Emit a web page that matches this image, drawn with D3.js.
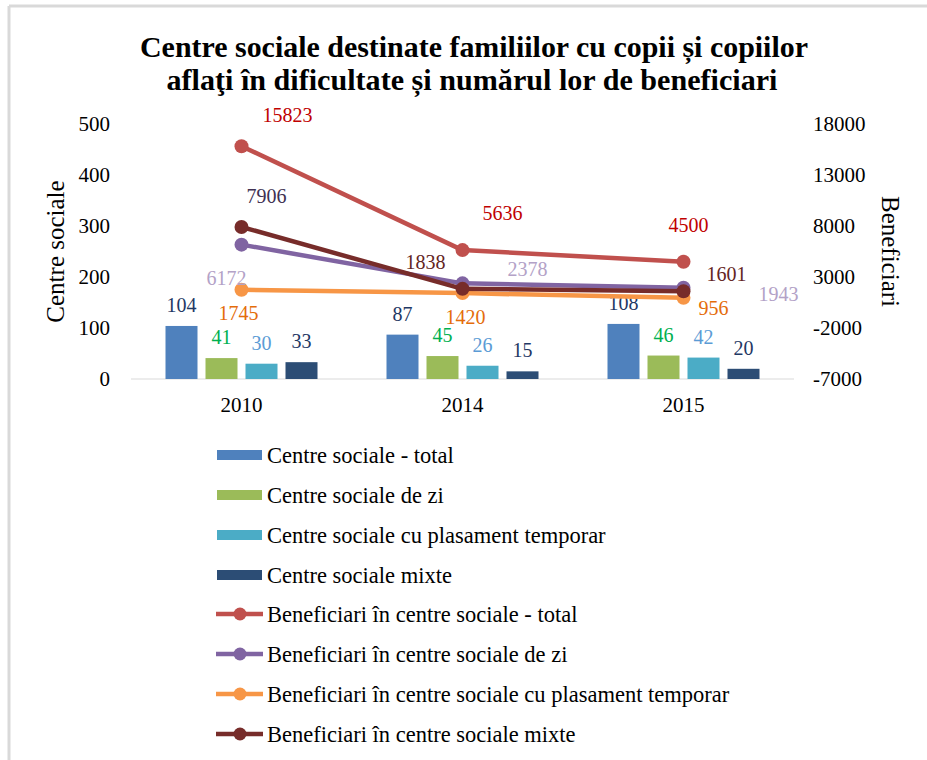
<!DOCTYPE html>
<html>
<head>
<meta charset="utf-8">
<script src="https://cdn.jsdelivr.net/npm/d3@7"></script>
<style>
  body { margin: 0; background: #fff; }
  text { font-family: "Liberation Serif", "Times New Roman", serif; }
</style>
</head>
<body>
<div id="chart"></div>
<script>
// data
var years = ["2010", "2014", "2015"];

var barNames = ["Centre sociale - total", "Centre sociale de zi",
  "Centre sociale cu plasament temporar", "Centre sociale mixte"];
var centreTotal = [104, 87, 108];
var centreZi = [41, 45, 46];
var centreTemporar = [30, 26, 42];
var centreMixte = [33, 15, 20];

var lineNames = ["Beneficiari în centre sociale - total", "Beneficiari în centre sociale de zi",
  "Beneficiari în centre sociale cu plasament temporar", "Beneficiari în centre sociale mixte"];
var benefTotal = [15823, 5636, 4500];
var benefZi = [6172, 2378, 1943];
var benefTemporar = [1745, 1420, 956];
var benefMixte = [7906, 1838, 1601];

var leftTicks = [0, 100, 200, 300, 400, 500];
var rightTicks = [-7000, -2000, 3000, 8000, 13000, 18000];

// styles
var barColors = ["#4f81bd", "#9bbb59", "#4bacc6", "#2c4d75"];
var barLabelColors = ["#1f3864", "#00b050", "#5b9bd5", "#1f3864"];
var lineColors = ["#c0504d", "#8064a2", "#f79646", "#772c2a"];
var lineLabelColors = [["#c00000", "#c00000", "#c00000"],
  ["#b3a2c7", "#b3a2c7", "#b3a2c7"],
  ["#e46c0a", "#e46c0a", "#e46c0a"],
  ["#403152", "#632523", "#632523"]];
// label nudges (dx, dy) per series/year, as placed in the original
var lineLabelNudge = [
  [[46, -31], [40, -37], [5, -37]],
  [[-15, 33], [65, -14], [95, 6]],
  [[-3, 23], [3, 24], [30, 10]],
  [[25, -31], [-37, -27], [43, -17]]
];

var svgWidth = 927;
var svgHeight = 760;
var margin = { top: 124, right: 133, bottom: 381, left: 131 };
var width = svgWidth - margin.left - margin.right;
var height = svgHeight - margin.top - margin.bottom;

var svg = d3.select("#chart")
  .append("svg")
  .attr("width", svgWidth)
  .attr("height", svgHeight);

// frame edge
svg.append("line").attr("x1", 9).attr("x2", svgWidth).attr("y1", 6).attr("y2", 6)
  .attr("stroke", "#d9d9d9").attr("stroke-width", 3);
svg.append("line").attr("x1", 9).attr("x2", 9).attr("y1", 6).attr("y2", svgHeight)
  .attr("stroke", "#d9d9d9").attr("stroke-width", 3);

// title
var title = svg.append("text")
  .attr("text-anchor", "middle")
  .attr("font-weight", "bold")
  .attr("font-size", 29);
title.append("tspan").attr("x", 474).attr("y", 57)
  .attr("textLength", 668).attr("lengthAdjust", "spacingAndGlyphs")
  .text("Centre sociale destinate familiilor cu copii și copiilor");
title.append("tspan").attr("x", 472).attr("y", 90)
  .attr("textLength", 611).attr("lengthAdjust", "spacingAndGlyphs")
  .text("aflaţi în dificultate și numărul lor de beneficiari");

var chartGroup = svg.append("g")
  .attr("transform", `translate(${margin.left}, ${margin.top})`);

var xScale = d3.scaleBand().domain(years).range([0, width]);
var yLeft = d3.scaleLinear().domain([0, 500]).range([height, 0]);
var yRight = d3.scaleLinear().domain([-7000, 18000]).range([height, 0]);
var xSub = d3.scaleBand().domain(d3.range(4)).range([-76, 76]).paddingInner(0.2).paddingOuter(0);

// axes
var leftAxis = chartGroup.append("g")
  .call(d3.axisLeft(yLeft).tickValues(leftTicks).tickFormat(d => String(d)).tickSize(0).tickPadding(21));
var rightAxis = chartGroup.append("g")
  .attr("transform", `translate(${width}, 0)`)
  .call(d3.axisRight(yRight).tickValues(rightTicks).tickFormat(d => String(d)).tickSize(0).tickPadding(19));
var bottomAxis = chartGroup.append("g")
  .attr("transform", `translate(0, ${height})`)
  .call(d3.axisBottom(xScale).tickSize(0).tickPadding(18));

[leftAxis, rightAxis, bottomAxis].forEach(function(a) {
  a.select(".domain").remove();
  a.selectAll("text")
    .attr("font-family", "Liberation Serif")
    .attr("font-size", 21)
    .attr("fill", "#000");
});
bottomAxis.append("line")
  .attr("x1", 0).attr("x2", width)
  .attr("stroke", "#d9d9d9").attr("stroke-width", 1);

// axis titles
svg.append("text")
  .attr("transform", `translate(55, ${margin.top + height / 2}) rotate(-90)`)
  .attr("text-anchor", "middle")
  .attr("dominant-baseline", "central")
  .attr("font-size", 25)
  .text("Centre sociale");
svg.append("text")
  .attr("transform", `translate(890, ${margin.top + height / 2}) rotate(90)`)
  .attr("text-anchor", "middle")
  .attr("dominant-baseline", "central")
  .attr("font-size", 25)
  .text("Beneficiari");

// bars
var barSeries = [centreTotal, centreZi, centreTemporar, centreMixte];
barSeries.forEach(function(vals, i) {
  var g = chartGroup.append("g");
  g.selectAll("rect")
    .data(vals)
    .enter()
    .append("rect")
    .attr("x", (d, j) => xScale(years[j]) + xScale.bandwidth() / 2 + xSub(i))
    .attr("y", d => yLeft(d))
    .attr("width", xSub.bandwidth())
    .attr("height", d => height - yLeft(d))
    .attr("fill", barColors[i]);
  g.selectAll("text")
    .data(vals)
    .enter()
    .append("text")
    .attr("x", (d, j) => xScale(years[j]) + xScale.bandwidth() / 2 + xSub(i) + xSub.bandwidth() / 2)
    .attr("y", d => yLeft(d) - 21)
    .attr("text-anchor", "middle")
    .attr("dominant-baseline", "central")
    .attr("font-size", 20)
    .attr("fill", barLabelColors[i])
    .text(d => d);
});

// lines
var lineSeries = [benefTotal, benefZi, benefTemporar, benefMixte];
var line = d3.line()
  .x((d, j) => xScale(years[j]) + xScale.bandwidth() / 2)
  .y(d => yRight(d));

var drawOrder = [2, 1, 3, 0];
drawOrder.forEach(function(i) {
  var vals = lineSeries[i];
  var g = chartGroup.append("g");
  g.append("path")
    .datum(vals)
    .attr("d", line)
    .attr("fill", "none")
    .attr("stroke", lineColors[i])
    .attr("stroke-width", 4.5)
    .attr("stroke-linejoin", "round");
  g.selectAll("circle")
    .data(vals)
    .enter()
    .append("circle")
    .attr("cx", (d, j) => xScale(years[j]) + xScale.bandwidth() / 2)
    .attr("cy", d => yRight(d))
    .attr("r", 7)
    .attr("fill", lineColors[i]);
});
lineSeries.forEach(function(vals, i) {
  chartGroup.append("g").selectAll("text")
    .data(vals)
    .enter()
    .append("text")
    .attr("x", (d, j) => xScale(years[j]) + xScale.bandwidth() / 2 + lineLabelNudge[i][j][0])
    .attr("y", (d, j) => yRight(d) + lineLabelNudge[i][j][1])
    .attr("text-anchor", "middle")
    .attr("dominant-baseline", "central")
    .attr("font-size", 20)
    .attr("fill", (d, j) => lineLabelColors[i][j])
    .text(d => d);
});

// legend
var legend = svg.append("g").attr("transform", "translate(217, 455)");
barNames.forEach(function(name, i) {
  var row = legend.append("g").attr("transform", `translate(0, ${i * 40})`);
  row.append("rect")
    .attr("x", 0).attr("y", -5)
    .attr("width", 45).attr("height", 10)
    .attr("fill", barColors[i]);
  row.append("text")
    .attr("x", 50).attr("y", 0)
    .attr("dominant-baseline", "central")
    .attr("font-size", 22.5)
    .text(name);
});
lineNames.forEach(function(name, i) {
  var row = legend.append("g").attr("transform", `translate(0, ${(i + 4) * 40 - 1})`);
  row.append("line")
    .attr("x1", -1).attr("x2", 46)
    .attr("stroke", lineColors[i])
    .attr("stroke-width", 4.5);
  row.append("circle")
    .attr("cx", 23).attr("r", 6.5)
    .attr("fill", lineColors[i]);
  row.append("text")
    .attr("x", 50).attr("y", 0)
    .attr("dominant-baseline", "central")
    .attr("font-size", 22.5)
    .text(name);
});
</script>
</body>
</html>
